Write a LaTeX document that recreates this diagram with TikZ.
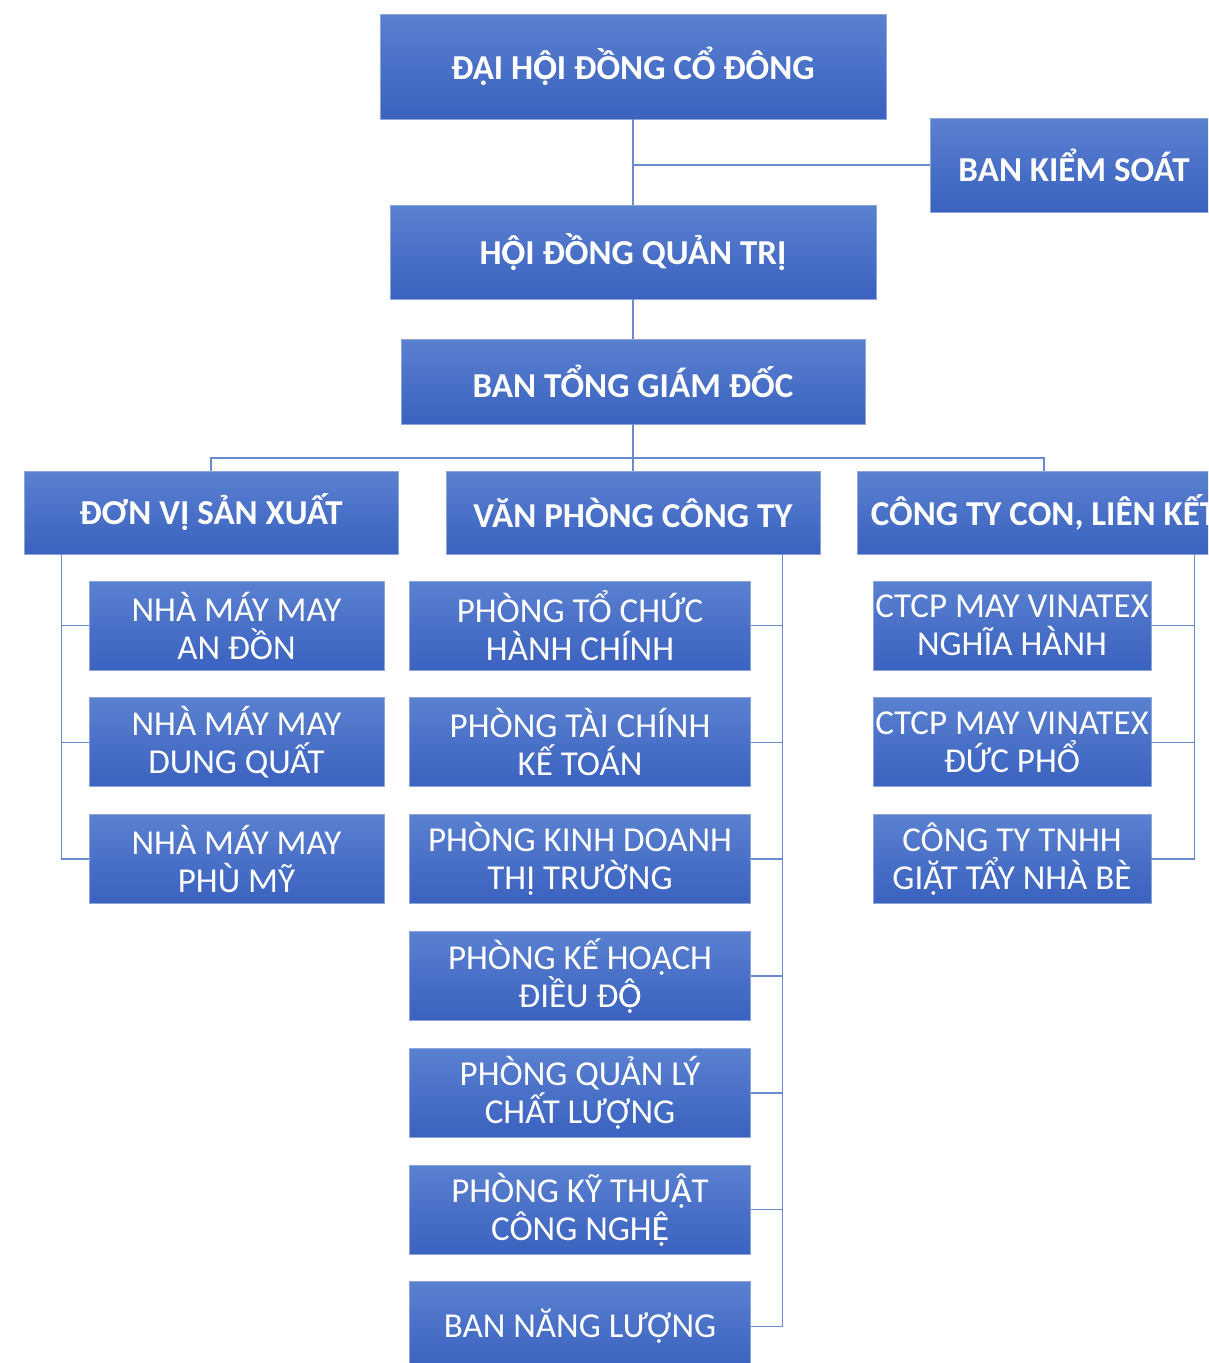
\documentclass[tikz,border=0pt]{standalone}
\usepackage{fontspec}
\setmainfont{Carlito}
\usetikzlibrary{positioning}

\definecolor{boxtop}{HTML}{5A80D0}
\definecolor{boxbot}{HTML}{3A62BF}
\definecolor{boxedge}{HTML}{8EA6DA}
\definecolor{linkblue}{HTML}{6A8BD2}

% letter with circumflex and dot below, laid over from two glyphs
\newcommand\vnstack[2]{\ooalign{#1\cr#2\cr}}

\begin{document}
\begin{tikzpicture}[x=1pt, y=-1pt,
  head/.style={rectangle, draw=boxedge, line width=0.8pt, top color=boxtop,
               bottom color=boxbot, text=white, align=center, inner sep=0pt,
               font=\fontsize{35}{40}\selectfont\bfseries},
  unit/.style={rectangle, draw=boxedge, line width=0.8pt, top color=boxtop,
               bottom color=boxbot, text=white, align=center, inner sep=0pt,
               minimum height=89pt, font=\fontsize{35}{38}\selectfont},
  link/.style={draw=linkblue, line width=1.6pt},
  node distance=27pt
]
  \useasboundingbox (0,0) rectangle (1208,1363);
  \clip (0,0) rectangle (1208,1363);

  % upper levels
  \node[head, minimum width=506pt, minimum height=105pt] (dh)  at (633,66.5)  {ĐẠI H\vnstack{Ô}{Ọ}I ĐỒNG CỔ ĐÔNG};
  \node[head, minimum width=288pt, minimum height=94pt]  (bks) at (1074,165) {BAN KIỂM SOÁT};
  \node[head, minimum width=486pt, minimum height=94pt]  (hd)  at (633,252)  {H\vnstack{Ô}{Ọ}I ĐỒNG QUẢN TRỊ};
  \node[head, minimum width=464pt, minimum height=85pt]  (bt)  at (633,381.5) {BAN TỔNG GIÁM ĐỐC};

  % columns
  \node[head, minimum width=374pt, minimum height=83pt] (dv) at (211,512.5)  {ĐƠN VỊ SẢN XUẤT};
  \node[head, minimum width=374pt, minimum height=83pt] (vp) at (633,512.5)  {VĂN PHÒNG CÔNG TY};
  \node[head, minimum width=374pt, minimum height=83pt] (ct) at (1044,512.5) {CÔNG TY CON, LIÊN KẾT};

  % production units
  \node[unit, minimum width=295pt] (f1) at (236.5,625.5) {NHÀ MÁY MAY\\AN ĐỒN};
  \node[unit, minimum width=295pt, below=of f1] (f2) {NHÀ MÁY MAY\\DUNG QUẤT};
  \node[unit, minimum width=295pt, below=of f2] (f3) {NHÀ MÁY MAY\\PHÙ MỸ};

  % offices
  \node[unit, minimum width=341pt] (o1) at (580,625.5) {PHÒNG TỔ CHỨC\\HÀNH CHÍNH};
  \node[unit, minimum width=341pt, below=of o1] (o2) {PHÒNG TÀI CHÍNH\\KẾ TOÁN};
  \node[unit, minimum width=341pt, below=of o2] (o3) {PHÒNG KINH DOANH\\THỊ TRƯỜNG};
  \node[unit, minimum width=341pt, below=of o3] (o4) {PHÒNG KẾ HOẠCH\\ĐIỀU Đ\vnstack{Ô}{Ọ}};
  \node[unit, minimum width=341pt, below=of o4] (o5) {PHÒNG QUẢN LÝ\\CHẤT LƯỢNG};
  \node[unit, minimum width=341pt, below=of o5] (o6) {PHÒNG KỸ THU\vnstack{Â}{Ạ}T\\CÔNG NGH\vnstack{Ê}{Ẹ}};
  \node[unit, minimum width=341pt, below=of o6] (o7) {BAN NĂNG LƯỢNG};

  % subsidiaries
  \node[unit, minimum width=278pt] (s1) at (1012,625.5) {CTCP MAY VINATEX\\NGHĨA HÀNH};
  \node[unit, minimum width=278pt, below=of s1] (s2) {CTCP MAY VINATEX\\ĐỨC PHỔ};
  \node[unit, minimum width=278pt, below=of s2] (s3) {CÔNG TY TNHH\\GIẶT TẨY NHÀ BÈ};

  % connectors
  \coordinate (bus) at (633,458);
  \draw[link] (dh.south) -- (hd.north);
  \draw[link] (dh.south |- bks.west) -- (bks.west);
  \draw[link] (hd.south) -- (bt.north);
  \draw[link] (bt.south) -- (bus);
  \draw[link] (dv.north) |- (bus) -| (ct.north);
  \draw[link] (bus) -- (vp.north);

  \coordinate (dvl) at ([xshift=38pt]dv.south west);
  \coordinate (vpr) at ([xshift=-38pt]vp.south east);
  \coordinate (ctr) at ([xshift=-37pt]ct.south east);
  \draw[link] (dvl) |- (f3.west);
  \foreach \u in {f1,f2} \draw[link] (dvl |- \u.west) -- (\u.west);
  \draw[link] (vpr) |- (o7.east);
  \foreach \u in {o1,o2,o3,o4,o5,o6} \draw[link] (vpr |- \u.east) -- (\u.east);
  \draw[link] (ctr) |- (s3.east);
  \foreach \u in {s1,s2} \draw[link] (ctr |- \u.east) -- (\u.east);
\end{tikzpicture}
\end{document}
